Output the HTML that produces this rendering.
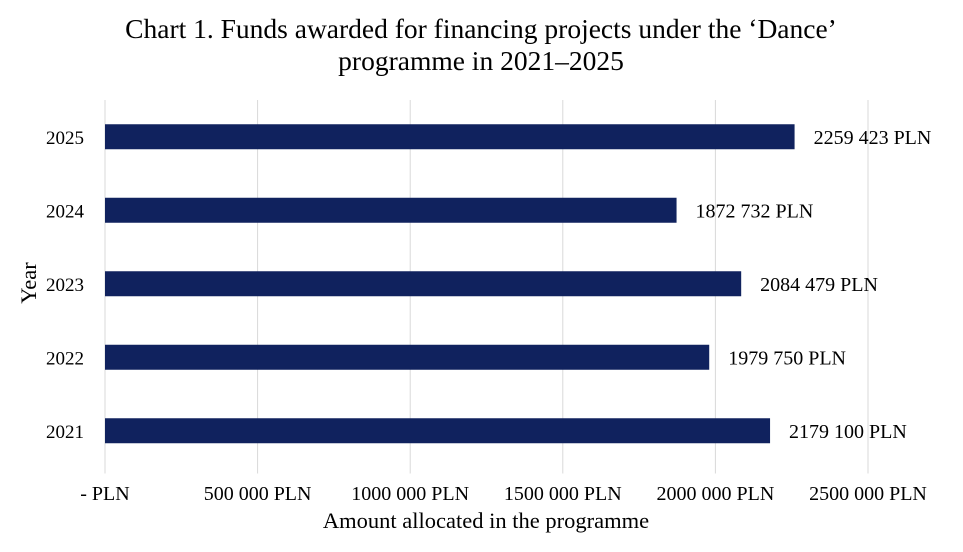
<!DOCTYPE html>
<html><head><meta charset="utf-8"><style>
body{margin:0;background:#fff;}
svg text{font-family:"Liberation Serif",serif;fill:#000;}
</style></head><body>
<svg width="963" height="547">
<text x="481" y="38" font-size="27.5" text-anchor="middle">Chart 1. Funds awarded for financing projects under the ‘Dance’</text>
<text x="481" y="70" font-size="27.5" text-anchor="middle">programme in 2021–2025</text>
<g id="grid"></g><g id="bars"></g><g id="labels"></g><g id="xticks"></g><g id="yticks"></g>
<text x="486" y="528" font-size="22.5" text-anchor="middle">Amount allocated in the programme</text>
<text transform="translate(36,283) rotate(-90)" font-size="22.5" text-anchor="middle">Year</text>
</svg>
<script>
const years=["2025","2024","2023","2022","2021"];
const values=[2259423,1872732,2084479,1979750,2179100];
const valueLabels=["2259 423 PLN","1872 732 PLN","2084 479 PLN","1979 750 PLN","2179 100 PLN"];
const tickValues=[0,500000,1000000,1500000,2000000,2500000];
const tickLabels=["- PLN","500 000 PLN","1000 000 PLN","1500 000 PLN","2000 000 PLN","2500 000 PLN"];
const NS="http://www.w3.org/2000/svg";
const x0=105,x1=868,plotTop=100,band=73.5,barH=25;
const xs=v=>x0+(v/2500000)*(x1-x0);
const yc=i=>plotTop+band*(i+0.5);
function mk(t,a,p){const e=document.createElementNS(NS,t);for(const k in a)e.setAttribute(k,a[k]);document.getElementById(p).appendChild(e);return e;}
tickValues.forEach((v,i)=>{
 const l=mk("line",{x1:xs(v),x2:xs(v),y1:plotTop,y2:plotTop+band*5+6,stroke:"#d9d9d9","stroke-width":1},"grid");
 
 
 const t=mk("text",{x:xs(v),y:500,"font-size":20,"text-anchor":"middle"},"xticks");
 t.textContent=tickLabels[i];
 
 
});
years.forEach((y,i)=>{
 const r=mk("rect",{x:x0,y:yc(i)-barH/2,width:xs(values[i])-x0,height:barH,fill:"#10225e"},"bars");
 
 
 const t=mk("text",{x:xs(values[i])+19,y:yc(i)+7,"font-size":20},"labels");
 t.textContent=valueLabels[i];
 
 
 const k=mk("text",{x:84,y:yc(i)+7,"font-size":19,"text-anchor":"end"},"yticks");
 k.textContent=y;
 
 
});
</script>
</body></html>
